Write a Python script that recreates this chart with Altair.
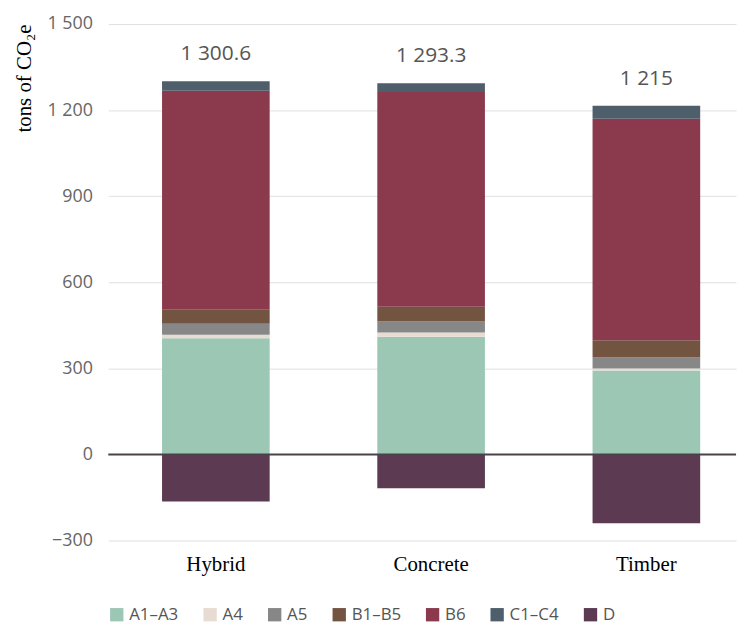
import altair as alt
import pandas as pd

designs = ["Hybrid", "Concrete", "Timber"]
stages = ["A1–A3", "A4", "A5", "B1–B5", "B6", "C1–C4", "D"]
colors = ["#9cc7b5", "#e8dcd2", "#878787", "#735441", "#8a3a4c", "#4f5e6b", "#5c3a52"]

hybrid = [405, 12, 38, 49, 763, 33.6, -164]
concrete = [410, 15, 38, 52, 748, 30.3, -118]
timber = [292, 7, 39, 60, 772, 45, -240]

totals = [1300.6, 1293.3, 1215]
total_labels = ["1 300.6", "1 293.3", "1 215"]

rows = []
for d, vals in zip(designs, [hybrid, concrete, timber]):
    for i, (s, v) in enumerate(zip(stages, vals)):
        rows.append({"design": d, "stage": s, "value": v, "order": i})
df = pd.DataFrame(rows)
tot_df = pd.DataFrame({"design": designs, "total": totals, "label": total_labels})

x_enc = alt.X("design:N", sort=designs, title=None,
              scale=alt.Scale(paddingInner=0.5, paddingOuter=0.208, align=0.6),
              axis=alt.Axis(labelAngle=0, labelFont="Liberation Serif", labelFontSize=21,
                            labelColor="#000000", ticks=False, domain=False, labelPadding=13))

bars = alt.Chart(df).mark_bar().encode(
    x=x_enc,
    y=alt.Y("value:Q", title="tons of CO₂e",
            scale=alt.Scale(domain=[-300, 1500], nice=False),
            axis=alt.Axis(values=[-300, 0, 300, 600, 900, 1200, 1500],
                          labelExpr="replace(format(datum.value, ','), ',', ' ')",
                          labelFont="Open Sans", labelFontSize=18, labelColor="#666666",
                          labelPadding=16, ticks=False, domain=False,
                          gridColor="#e0e0e0", gridWidth=1,
                          titleFont="Liberation Serif", titleFontSize=21, titleFontWeight="normal",
                          titleColor="#000000", titlePadding=12, titleAnchor="end")),
    color=alt.Color("stage:N", sort=stages,
                    scale=alt.Scale(domain=stages, range=colors),
                    legend=alt.Legend(title=None, orient="bottom", direction="horizontal",
                                      symbolType="square", symbolSize=180, symbolStrokeWidth=0,
                                      labelFont="Open Sans", labelFontSize=17, labelColor="#555555",
                                      columnPadding=23, offset=32)),
    order=alt.Order("order:Q"),
)

text = alt.Chart(tot_df).mark_text(baseline="bottom", dy=-17, font="Open Sans",
                                   fontSize=21, color="#555555").encode(
    x=alt.X("design:N", sort=designs),
    y=alt.Y("total:Q"),
    text="label:N",
)

zero = alt.Chart(pd.DataFrame({"y": [0]})).mark_rule(color="#4a4248", strokeWidth=2).encode(
    y="y:Q"
)

chart = alt.layer(bars, zero, text).properties(
    width=632, height=520,
    padding={"left": 6, "top": 5, "right": 0, "bottom": 3},
).configure_view(stroke=None)

chart.save("out.html", embed_options={"renderer": "svg", "actions": False})
